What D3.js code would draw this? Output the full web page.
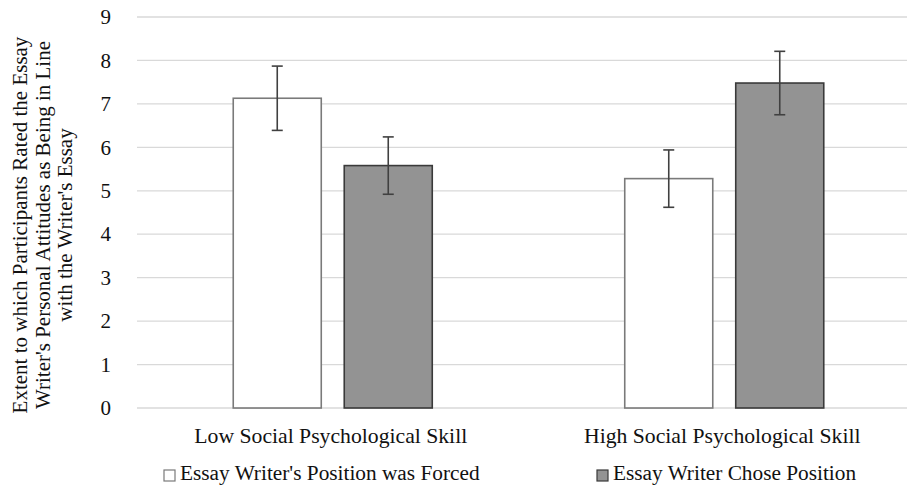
<!DOCTYPE html>
<html>
<head>
<meta charset="utf-8">
<script src="https://cdn.jsdelivr.net/npm/d3@7"></script>
<style>
  body { margin: 0; background: #fff; }
  text { font-family: "Liberation Serif", "Times New Roman", serif; fill: #111; }
</style>
</head>
<body>
<div id="chart"></div>
<script>
// Chart data
const groups = ["Low Social Psychological Skill", "High Social Psychological Skill"];
const series = ["Essay Writer's Position was Forced", "Essay Writer Chose Position"];
const forcedMeans = [7.13, 5.28];
const forcedErr = [0.74, 0.66];
const choseMeans = [5.58, 7.48];
const choseErr = [0.66, 0.73];
const yTicks = [0, 1, 2, 3, 4, 5, 6, 7, 8, 9];
const yTitle = ["Extent to which Participants Rated the Essay",
                "Writer's Personal Attitudes as Being in Line",
                "with the Writer's Essay"];

const width = 907;
const height = 489;

const svg = d3.select("#chart")
    .append("svg")
    .attr("width", width)
    .attr("height", height);

// Scales
const x = d3.scaleBand()
    .domain(groups)
    .range([137, 920]);

const xInner = d3.scaleBand()
    .domain(series)
    .range([0, x.bandwidth()])
    .paddingInner(0.207)
    .paddingOuter(0.867);

const y = d3.scaleLinear()
    .domain([0, 9])
    .range([408, 17]);

const fill = d3.scaleOrdinal().domain(series).range(["#ffffff", "#939393"]);
const stroke = d3.scaleOrdinal().domain(series).range(["#7a7a7a", "#3a3a3a"]);

// Gridlines
svg.append("g")
    .selectAll("line")
    .data(yTicks)
    .join("line")
    .attr("x1", 137)
    .attr("x2", width)
    .attr("y1", d => y(d))
    .attr("y2", d => y(d))
    .attr("stroke", "#d9d9d9")
    .attr("stroke-width", 1.3);

// Y axis labels
const yAxis = svg.append("g")
    .attr("transform", "translate(111,0)")
    .call(d3.axisLeft(y).tickValues(yTicks).tickSize(0).tickPadding(0));
yAxis.select(".domain").remove();
yAxis.selectAll("text")
    .style("font-family", "Liberation Serif, Times New Roman, serif")
    .style("font-size", "21px")
    .attr("fill", "#111");

// Bars
const rows = [];
groups.forEach((g, i) => {
    rows.push({ group: g, key: series[0], value: forcedMeans[i], err: forcedErr[i] });
    rows.push({ group: g, key: series[1], value: choseMeans[i], err: choseErr[i] });
});

const bar = svg.append("g")
    .selectAll("g")
    .data(rows)
    .join("g")
    .attr("transform", d => `translate(${x(d.group) + xInner(d.key)},0)`);

bar.append("rect")
    .attr("x", 0)
    .attr("width", xInner.bandwidth())
    .attr("y", d => y(d.value))
    .attr("height", d => y(0) - y(d.value))
    .attr("fill", d => fill(d.key))
    .attr("stroke", d => stroke(d.key))
    .attr("stroke-width", 1.6);

// Error bars
const cx = xInner.bandwidth() / 2;
bar.append("line")
    .attr("x1", cx).attr("x2", cx)
    .attr("y1", d => y(d.value + d.err))
    .attr("y2", d => y(d.value - d.err))
    .attr("stroke", "#404040").attr("stroke-width", 1.6);
[1, -1].forEach(s => {
    bar.append("line")
        .attr("x1", cx - 5.5).attr("x2", cx + 5.5)
        .attr("y1", d => y(d.value + s * d.err))
        .attr("y2", d => y(d.value + s * d.err))
        .attr("stroke", "#404040").attr("stroke-width", 1.6);
});

// Category labels
svg.append("g")
    .selectAll("text")
    .data(groups)
    .join("text")
    .attr("x", d => x(d) + x.bandwidth() / 2 - 2)
    .attr("y", 443)
    .attr("text-anchor", "middle")
    .style("font-size", "21.7px")
    .text(d => d);

// Y title
svg.append("text")
    .attr("transform", "translate(0,225) rotate(-90)")
    .attr("text-anchor", "middle")
    .style("font-size", "21px")
    .selectAll("tspan")
    .data(yTitle)
    .join("tspan")
    .attr("x", 0)
    .attr("y", (d, i) => 27 + i * 22.5)
    .text(d => d);

// Legend
const legendX = [164, 597];
const legend = svg.append("g")
    .selectAll("g")
    .data(series)
    .join("g")
    .attr("transform", (d, i) => `translate(${legendX[i]},470)`);

legend.append("rect")
    .attr("width", 11)
    .attr("height", 11)
    .attr("fill", d => fill(d))
    .attr("stroke", d => stroke(d))
    .attr("stroke-width", 1.2);

legend.append("text")
    .attr("x", 16)
    .attr("y", 10)
    .style("font-size", "21.3px")
    .text(d => d);
</script>
</body>
</html>
